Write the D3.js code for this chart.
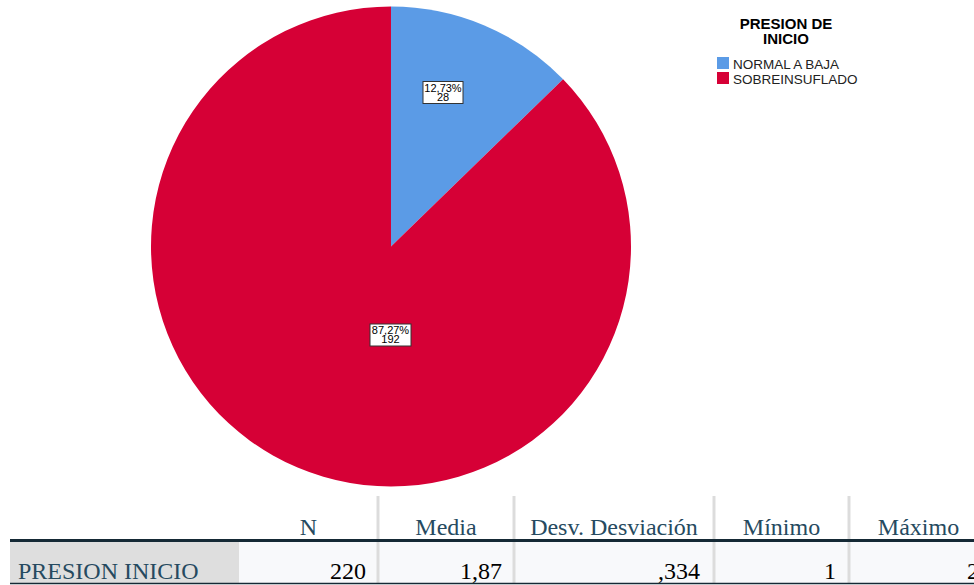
<!DOCTYPE html>
<html><head><meta charset="utf-8">
<script src="https://cdn.jsdelivr.net/npm/d3@7"></script>
<style>body{margin:0;background:#fff;}svg{display:block;}</style>
</head><body>
<script>
const categories = ["NORMAL A BAJA", "SOBREINSUFLADO"];
const counts = [28, 192];
const percentLabels = ["12,73%", "87,27%"];
const colors = ["#5b9be6", "#d60036"];
const legendTitle = ["PRESION DE", "INICIO"];
const tableHeaders = ["N", "Media", "Desv. Desviación", "Mínimo", "Máximo"];
const tableRowLabel = "PRESION INICIO";
const tableRowValues = ["220", "1,87", ",334", "1", "2"];

const W = 974, H = 585;
const svg = d3.select("body").append("svg").attr("width", W).attr("height", H);
const sans = "Liberation Sans, Arial, sans-serif";

// Pie
const cx = 391, cy = 246.5, r = 240;
const pie = d3.pie().sort(null).value(d => d)(counts);
const arc = d3.arc().innerRadius(0).outerRadius(r);
const g = svg.append("g").attr("transform", `translate(${cx},${cy})`);
g.selectAll("path").data(pie).join("path")
  .attr("d", arc).attr("fill", (d, i) => colors[i]);

// Labels
const labelPos = [[443, 92.5], [390.5, 335]];
const labelW = [40, 41];
pie.forEach((d, i) => {
  const lg = svg.append("g").attr("transform", `translate(${labelPos[i][0]},${labelPos[i][1]})`);
  const w = labelW[i];
  lg.append("rect").attr("x", -w/2).attr("y", -11).attr("width", w).attr("height", 22)
    .attr("fill", "#fff").attr("stroke", "#333").attr("stroke-width", 1);
  lg.append("text").attr("text-anchor", "middle").attr("y", -1)
    .attr("font-family", sans).attr("font-size", 11).attr("fill", "#000")
    .text(percentLabels[i]);
  lg.append("text").attr("text-anchor", "middle").attr("y", 8)
    .attr("font-family", sans).attr("font-size", 11).attr("fill", "#000")
    .text(counts[i]);
});

// Legend
const lx = 786;
legendTitle.forEach((t, i) => {
  svg.append("text").attr("x", lx).attr("y", 29 + i * 15).attr("text-anchor", "middle")
    .attr("font-family", sans).attr("font-weight", "bold")
    .attr("font-size", 15).attr("fill", "#000").text(t);
});
categories.forEach((c, i) => {
  svg.append("rect").attr("x", 717).attr("y", 57 + i * 15).attr("width", 12).attr("height", 12)
    .attr("fill", colors[i]);
  svg.append("text").attr("x", 733).attr("y", 69 + i * 15)
    .attr("font-family", sans).attr("font-size", 13.5)
    .attr("fill", "#222").text(c);
});

// Table
const colEdges = [239, 378, 514, 714, 849, 988];
const valueRight = [366, 502, 700, 836, 979];
const headerTop = 496, thickY = 540.5, rowTop = 542, rowBottom = 583;
const serif = "Liberation Serif, Times New Roman, serif";
const txtColor = "#264a60";
svg.append("rect").attr("x", 10).attr("y", rowTop).attr("width", 229).attr("height", rowBottom - rowTop).attr("fill", "#dedede");
svg.append("rect").attr("x", 239).attr("y", rowTop).attr("width", W - 239).attr("height", rowBottom - rowTop).attr("fill", "#f8f9fb");
colEdges.slice(1, 5).forEach(x => {
  svg.append("line").attr("x1", x).attr("x2", x).attr("y1", headerTop).attr("y2", rowBottom)
    .attr("stroke", "#dcdcdc").attr("stroke-width", 3);
});
svg.append("line").attr("x1", 10).attr("x2", W).attr("y1", thickY).attr("y2", thickY)
  .attr("stroke", "#152935").attr("stroke-width", 3);
svg.append("line").attr("x1", 10).attr("x2", W).attr("y1", rowBottom + 0.5).attr("y2", rowBottom + 0.5)
  .attr("stroke", "#152935").attr("stroke-width", 1.5);
tableHeaders.forEach((h, i) => {
  svg.append("text").attr("x", (colEdges[i] + colEdges[i+1]) / 2).attr("y", 535)
    .attr("text-anchor", "middle").attr("font-family", serif).attr("font-size", 24)
    .attr("fill", txtColor).text(h);
});
svg.append("text").attr("x", 18).attr("y", 579).attr("font-family", serif).attr("font-size", 24)
  .attr("fill", txtColor).text(tableRowLabel);
tableRowValues.forEach((v, i) => {
  svg.append("text").attr("x", valueRight[i]).attr("y", 579).attr("text-anchor", "end")
    .attr("font-family", serif).attr("font-size", 24).attr("fill", "#000").text(v);
});
</script>
</body></html>
